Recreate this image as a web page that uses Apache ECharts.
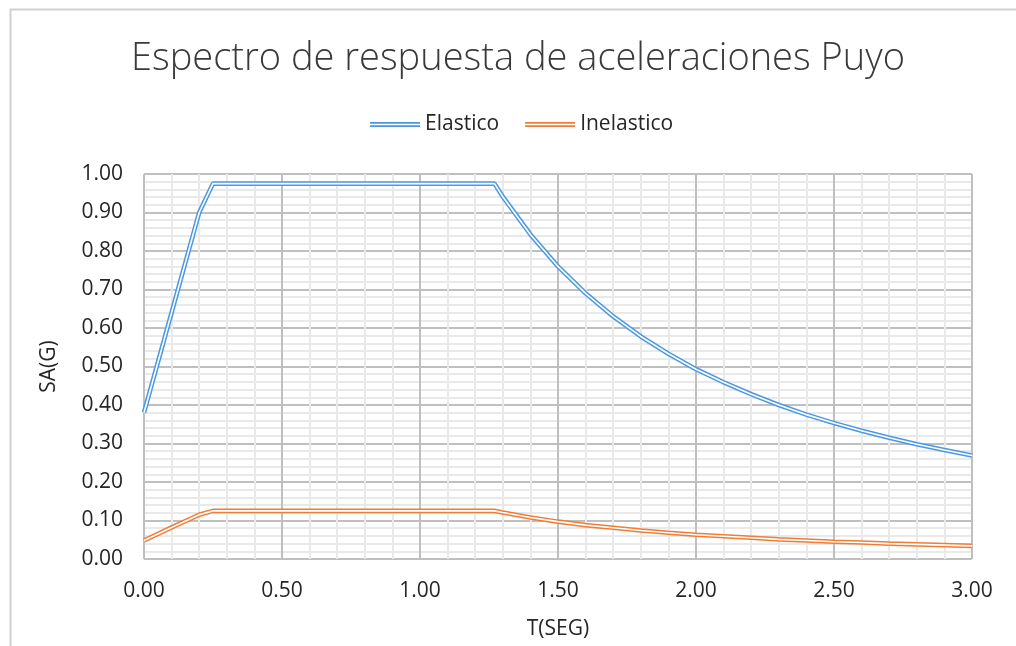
<!DOCTYPE html>
<html>
<head>
<meta charset="utf-8">
<style>
  html, body { margin: 0; padding: 0; background: #ffffff; }
  #chart { width: 1016px; height: 646px; }
</style>
<script src="https://cdn.jsdelivr.net/npm/echarts@6/dist/echarts.min.js"></script>
</head>
<body>
<div id="chart"></div>
<script>
// Period T (s) at each computed point of the spectrum
const periods = [0.00, 0.10, 0.20, 0.25, 1.27, 1.30, 1.40, 1.50, 1.60, 1.70, 1.80, 1.90,
                 2.00, 2.10, 2.20, 2.30, 2.40, 2.50, 2.60, 2.70, 2.80, 2.90, 3.00];

// Spectral acceleration Sa (g), elastic design spectrum
const elastico = [0.380, 0.640, 0.900, 0.975, 0.975, 0.941, 0.843, 0.760, 0.690, 0.630,
                  0.578, 0.533, 0.493, 0.459, 0.428, 0.400, 0.375, 0.353, 0.333, 0.315,
                  0.298, 0.283, 0.269];

// Spectral acceleration Sa (g), inelastic (reduced) spectrum
const inelastico = [0.048, 0.082, 0.115, 0.125, 0.125, 0.121, 0.108, 0.097, 0.088, 0.081,
                    0.074, 0.068, 0.063, 0.059, 0.055, 0.051, 0.048, 0.045, 0.043, 0.040,
                    0.038, 0.036, 0.034];

const titleText = 'Espectro de respuesta de aceleraciones Puyo';
const xName = 'T(SEG)';
const yName = 'SA(G)';
const seriesNames = ['Elastico', 'Inelastico'];
const seriesColors = ['#4a98e2', '#f07d36'];

const FONT = '"Open Sans", "Noto Sans", sans-serif';
const TEXT = '#262626';

function pairs(ys) {
  return periods.map((t, i) => [t, ys[i]]);
}

// A "double" stroke: a wide coloured line with a thin white core on top
function doubleLine(name, ys, color, z) {
  return [
    {
      name: name, type: 'line', data: pairs(ys), symbol: 'none', smooth: false,
      z: z, lineStyle: { color: color, width: 4.6 }, itemStyle: { color: color },
      emphasis: { disabled: true }, silent: true
    },
    {
      name: name + '_core', type: 'line', data: pairs(ys), symbol: 'none', smooth: false,
      z: z + 1, lineStyle: { color: '#ffffff', width: 1.6 },
      emphasis: { disabled: true }, silent: true
    }
  ];
}

const chart = echarts.init(document.getElementById('chart'), null, { renderer: 'canvas' });

chart.setOption({
  backgroundColor: '#ffffff',
  animation: false,
  graphic: [{
    type: 'rect', left: 8, top: 7, z: 0,
    shape: { width: 1100, height: 700 },
    style: { fill: 'none', stroke: '#d0d0d0', lineWidth: 2 }
  }],
  title: {
    text: titleText, left: 126, top: 35,
    textStyle: { fontFamily: FONT, fontWeight: 300, fontSize: 38, color: '#3a3a3a' }
  },
  legend: {
    data: seriesNames, left: 365, top: 109, itemWidth: 50, itemHeight: 5, itemGap: 26,
    icon: 'path://M0,0H50V1.6H0Z M0,3.2H50V4.8H0Z',
    textStyle: { fontFamily: FONT, fontSize: 21, color: TEXT, padding: [0, 0, 0, 0] }
  },
  grid: { left: 144, right: 44, top: 174, bottom: 87, containLabel: false },
  xAxis: {
    type: 'value', min: 0, max: 3, interval: 0.5,
    name: xName, nameLocation: 'middle', nameGap: 60,
    nameTextStyle: { fontFamily: FONT, fontSize: 21, color: TEXT },
    axisLine: { show: false }, axisTick: { show: false },
    axisLabel: { formatter: v => v.toFixed(2), fontFamily: FONT, fontSize: 21, color: TEXT, margin: 22 },
    splitLine: { show: true, lineStyle: { color: '#bfbfbf', width: 2 } },
    minorTick: { show: false, splitNumber: 5 },
    minorSplitLine: { show: true, lineStyle: { color: '#e9e9e9', width: 2 } }
  },
  yAxis: {
    type: 'value', min: 0, max: 1, interval: 0.1,
    name: yName, nameLocation: 'middle', nameGap: 84, nameRotate: 90,
    nameTextStyle: { fontFamily: FONT, fontSize: 21, color: TEXT },
    axisLine: { show: false }, axisTick: { show: false },
    axisLabel: { formatter: v => v.toFixed(2), fontFamily: FONT, fontSize: 21, color: TEXT, margin: 21 },
    splitLine: { show: true, lineStyle: { color: '#bfbfbf', width: 2 } },
    minorTick: { show: false, splitNumber: 5 },
    minorSplitLine: { show: true, lineStyle: { color: '#e9e9e9', width: 2 } }
  },
  series: [
    ...doubleLine(seriesNames[1], inelastico, seriesColors[1], 3),
    ...doubleLine(seriesNames[0], elastico, seriesColors[0], 5)
  ]
});
</script>
</body>
</html>
